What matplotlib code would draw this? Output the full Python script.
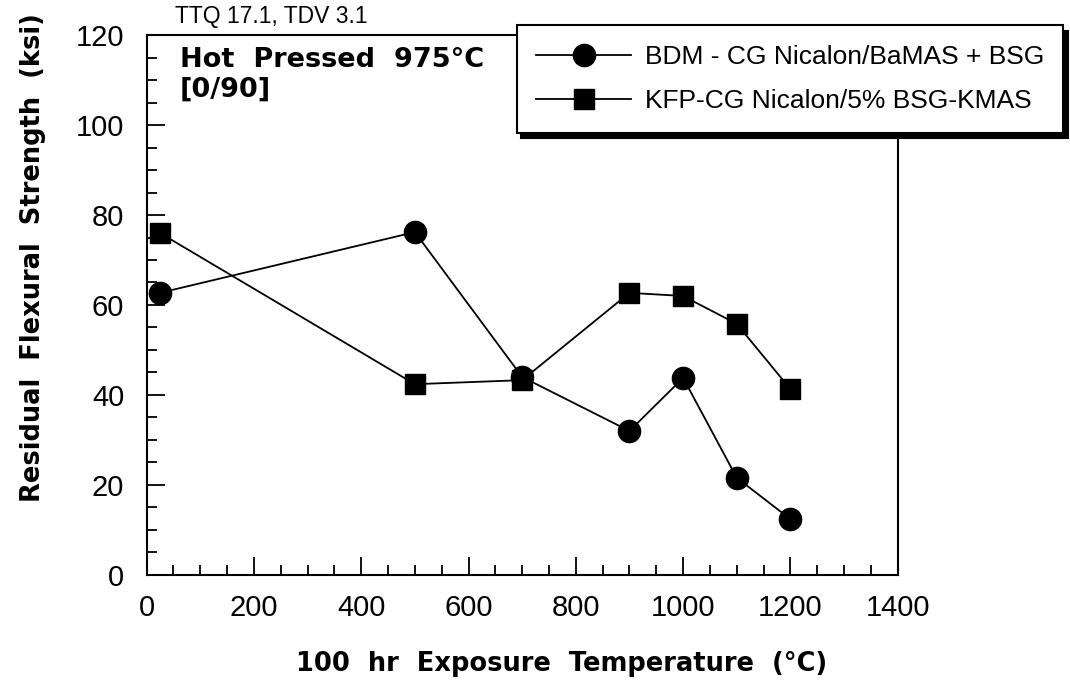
import matplotlib.pyplot as plt
from matplotlib.ticker import MultipleLocator

plt.rcParams['font.family'] = ['Liberation Sans', 'DejaVu Sans']

# BDM - CG Nicalon/BaMAS + BSG
bdm_temp = [25, 500, 700, 900, 1000, 1100, 1200]
bdm_strength = [62.7, 76.2, 44.0, 32.0, 43.8, 21.6, 12.4]

# KFP-CG Nicalon/5% BSG-KMAS
kfp_temp = [25, 500, 700, 900, 1000, 1100, 1200]
kfp_strength = [76.0, 42.4, 43.3, 62.7, 62.0, 55.8, 41.3]

labels = ["BDM - CG Nicalon/BaMAS + BSG", "KFP-CG Nicalon/5% BSG-KMAS"]

fig = plt.figure(figsize=(10.7, 6.84), dpi=100)
ax = fig.add_axes([0.137, 0.1594, 0.702, 0.7894])

ax.plot(bdm_temp, bdm_strength, color='k', lw=1.3, marker='o', ms=16, label=labels[0])
ax.plot(kfp_temp, kfp_strength, color='k', lw=1.3, marker='s', ms=14.5, label=labels[1])

ax.set_xlim(0, 1400)
ax.set_ylim(0, 120)
ax.xaxis.set_major_locator(MultipleLocator(200))
ax.xaxis.set_minor_locator(MultipleLocator(50))
ax.yaxis.set_major_locator(MultipleLocator(20))
ax.yaxis.set_minor_locator(MultipleLocator(5))
ax.tick_params(which='both', direction='in', top=False, right=False, width=1.3)
ax.tick_params(which='major', length=13, labelsize=21, pad=14)
ax.tick_params(which='minor', length=7)
ax.tick_params(axis='y', which='major', pad=16)
for s in ax.spines.values():
    s.set_linewidth(1.5)

bold = ['DejaVu Sans']
ax.set_xlabel("100  hr  Exposure  Temperature  (°C)", fontsize=18.5, fontweight='bold',
              family=bold)
ax.xaxis.set_label_coords(0.553, -0.14)
ax.set_ylabel("Residual  Flexural  Strength  (ksi)", fontsize=18.5, fontweight='bold',
              family=bold)
ax.yaxis.set_label_coords(-0.134, 0.587)

ax.text(0.044, 0.977, "Hot  Pressed  975°C\n[0/90]", transform=ax.transAxes, fontsize=19.5,
        fontweight='bold', family=bold, va='top', ha='left', linespacing=1.15)
fig.text(0.164, 0.976, "TTQ 17.1, TDV 3.1", fontsize=16.5, va='center')

leg = fig.legend(loc='upper left', bbox_to_anchor=(0.483, 0.963), borderaxespad=0,
                 fontsize=19, handlelength=3.6, handletextpad=0.5, borderpad=0.74,
                 labelspacing=0.77, fancybox=False, edgecolor='k', framealpha=1,
                 shadow={'color': 'k', 'alpha': 1, 'ox': 3, 'oy': -4})
leg.get_frame().set_linewidth(1.5)

fig.savefig("out.png", dpi=100)
